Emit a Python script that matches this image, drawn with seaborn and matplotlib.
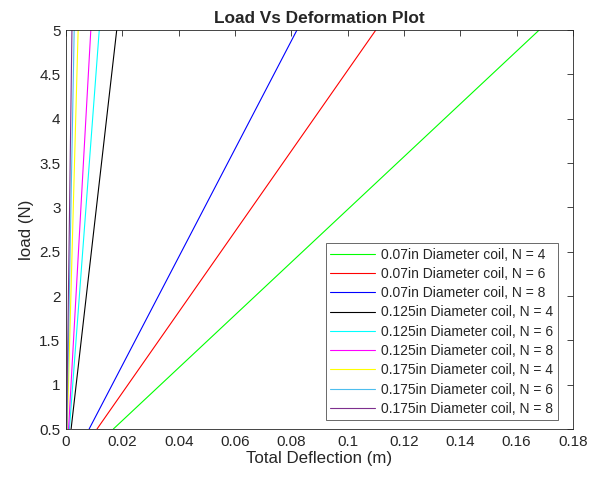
import matplotlib
matplotlib.use("Agg")
import matplotlib.pyplot as plt
import seaborn as sns
import pandas as pd

sns.set_style("white")
plt.rcParams['font.family'] = ['Liberation Sans', 'DejaVu Sans']

series = [
    "0.07in Diameter coil, N = 4",
    "0.07in Diameter coil, N = 6",
    "0.07in Diameter coil, N = 8",
    "0.125in Diameter coil, N = 4",
    "0.125in Diameter coil, N = 6",
    "0.125in Diameter coil, N = 8",
    "0.175in Diameter coil, N = 4",
    "0.175in Diameter coil, N = 6",
    "0.175in Diameter coil, N = 8",
]
loads = [0.5, 5.0]
# deflection (m) at each load, per series
deflection = [
    [0.0168, 0.168],
    [0.0110, 0.110],
    [0.0082, 0.082],
    [0.0018, 0.018],
    [0.0012, 0.0118],
    [0.0009, 0.0088],
    [0.00043, 0.0043],
    [0.00029, 0.0029],
    [0.00021, 0.0021],
]
colors = ["#00ff00", "#ff0000", "#0000ff", "#000000", "#00ffff",
          "#ff00ff", "#ffff00", "#4dbeee", "#7e2f8e"]

rows = []
for s, d in zip(series, deflection):
    for l, x in zip(loads, d):
        rows.append({"series": s, "load": l, "deflection": x})
df = pd.DataFrame(rows)

fig = plt.figure(figsize=(5.97, 4.78), dpi=100)
ax = fig.add_axes([0.1106, 0.1025, 0.8492, 0.8347])
sns.lineplot(data=df, x="deflection", y="load", hue="series", hue_order=series,
             palette=colors, linewidth=0.8, ax=ax, sort=False, estimator=None)

ax.set_xlim(0, 0.18)
ax.set_ylim(0.5, 5)
ax.set_xticks([0, 0.02, 0.04, 0.06, 0.08, 0.1, 0.12, 0.14, 0.16, 0.18])
ax.set_xticklabels(["0", "0.02", "0.04", "0.06", "0.08", "0.1", "0.12", "0.14", "0.16", "0.18"])
ax.set_yticks([0.5, 1, 1.5, 2, 2.5, 3, 3.5, 4, 4.5, 5])
ax.set_yticklabels(["0.5", "1", "1.5", "2", "2.5", "3", "3.5", "4", "4.5", "5"])
ax.tick_params(direction="in", length=4, width=0.6, top=True, right=True,
               labelsize=11, colors="#262626", labelcolor="#262626", pad=4)
for sp in ax.spines.values():
    sp.set_color("#262626")
    sp.set_linewidth(0.6)
ax.set_xlabel("Total Deflection (m)", fontsize=12.2, color="#262626", labelpad=2)
ax.set_ylabel("load (N)", fontsize=12.2, color="#262626", labelpad=4)
ax.set_title("Load Vs Deformation Plot", fontsize=12.4, fontweight="bold", pad=5)

leg = ax.legend(loc="lower right", bbox_to_anchor=(0.978, 0.012), fontsize=10,
                frameon=True, fancybox=False, handlelength=3.25, borderpad=0.3,
                labelspacing=0.38, handletextpad=0.43, borderaxespad=0.3)
leg.get_frame().set_edgecolor("#262626")
leg.get_frame().set_linewidth(0.6)
for h in leg.get_lines():
    h.set_linewidth(0.8)

fig.savefig("out.png", dpi=100)
